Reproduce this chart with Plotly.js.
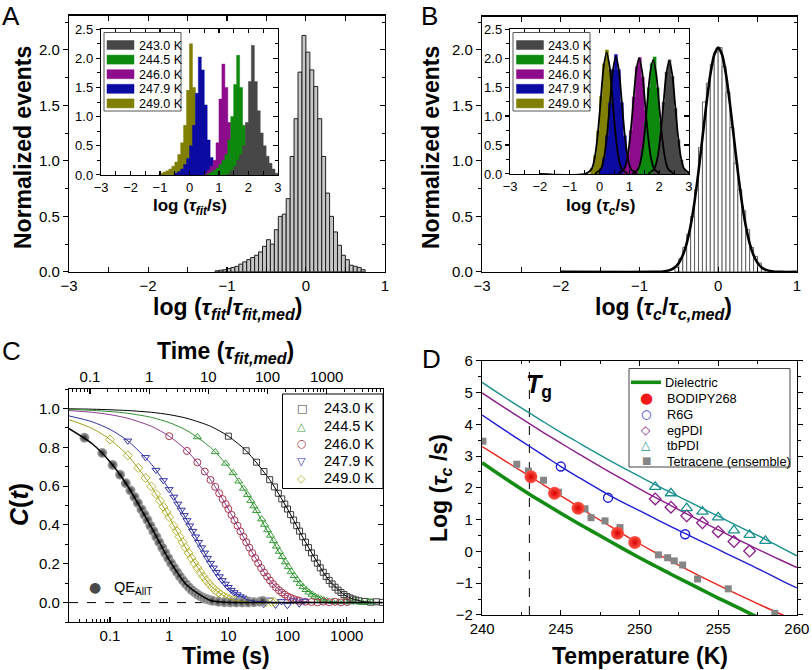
<!DOCTYPE html>
<html>
<head>
<meta charset="utf-8">
<script src="https://cdn.plot.ly/plotly-3.0.1.min.js"></script>
<style>
  html, body { margin: 0; padding: 0; background: #fff; }
  #plot { width: 812px; height: 670px; }
</style>
</head>
<body>
<div id="plot"></div>
<script>
// ---------- Panel A: main histogram ----------
const histAx = [-1.125,-1.075,-1.025,-0.975,-0.925,-0.875,-0.825,-0.775,-0.725,-0.675,-0.625,-0.575,-0.525,-0.475,-0.425,-0.375,-0.325,-0.275,-0.225,-0.175,-0.125,-0.075,-0.025,0.025,0.075,0.125,0.175,0.225,0.275,0.325,0.375,0.425,0.475,0.525,0.575,0.625,0.675,0.725];
const histAy = [0.01,0.015,0.02,0.03,0.04,0.05,0.07,0.09,0.11,0.13,0.15,0.18,0.23,0.29,0.25,0.38,0.50,0.52,0.66,1.04,1.38,1.80,2.13,1.98,1.82,1.67,1.38,1.04,0.71,0.50,0.36,0.24,0.15,0.11,0.06,0.05,0.04,0.02];

// ---------- Panel A: inset histograms (log tau_fit / s) ----------
const insA249x = [-1.05,-0.95,-0.85,-0.75,-0.65,-0.55,-0.45,-0.35,-0.25,-0.15,-0.05,0.05,0.15,0.25,0.35,0.45,0.55,0.65];
const insA249y = [0,0.03,0.05,0.07,0.10,0.15,0.22,0.35,0.55,0.85,1.45,2.25,1.50,0.80,0.40,0.15,0.05,0];
const insA2479x = [-0.55,-0.45,-0.35,-0.25,-0.15,-0.05,0.05,0.15,0.25,0.35,0.45,0.55,0.65,0.75,0.85,0.95,1.05,1.15];
const insA2479y = [0,0.03,0.06,0.10,0.18,0.28,0.50,0.85,1.40,2.02,1.80,1.20,0.60,0.30,0.15,0.07,0.03,0];
const insA246x = [0.45,0.55,0.65,0.75,0.85,0.95,1.05,1.15,1.25,1.35,1.45,1.55,1.65,1.75,1.85];
const insA246y = [0,0.03,0.08,0.15,0.25,0.55,1.30,1.90,1.50,0.90,0.45,0.20,0.08,0.03,0];
const insA2445x = [0.55,0.65,0.75,0.85,0.95,1.05,1.15,1.25,1.35,1.45,1.55,1.65,1.75,1.85,1.95,2.05,2.15,2.25];
const insA2445y = [0,0.02,0.05,0.08,0.12,0.18,0.25,0.35,0.60,1.00,1.55,2.05,1.50,0.85,0.40,0.15,0.05,0];
const insA243x = [1.25,1.35,1.45,1.55,1.65,1.75,1.85,1.95,2.05,2.15,2.25,2.35,2.45,2.55,2.65,2.75,2.85,2.95,3.05];
const insA243y = [0,0.03,0.08,0.15,0.25,0.35,0.50,0.90,1.60,2.22,1.60,1.10,0.72,0.50,0.32,0.20,0.10,0.03,0];

// ---------- Panel B: main histogram + gaussian fit ----------
const histBx = [-0.525,-0.475,-0.425,-0.375,-0.325,-0.275,-0.225,-0.175,-0.125,-0.075,-0.025,0.025,0.075,0.125,0.175,0.225,0.275,0.325,0.375,0.425,0.475,0.525,0.575];
const histBy = [0.04,0.12,0.22,0.34,0.50,0.74,1.12,1.53,1.70,1.87,1.98,2.02,1.85,1.62,1.30,0.98,0.74,0.55,0.38,0.22,0.14,0.08,0.03];
const fitBx = [-2,-0.8,-0.7,-0.6,-0.55,-0.5,-0.45,-0.4,-0.35,-0.3,-0.25,-0.2,-0.15,-0.1,-0.05,0,0.05,0.1,0.15,0.2,0.25,0.3,0.35,0.4,0.45,0.5,0.55,0.6,0.7,0.8,1.0];
const fitBy = [0,0,0.004,0.02,0.041,0.081,0.149,0.257,0.417,0.633,0.903,1.207,1.511,1.776,1.955,2.02,1.955,1.776,1.511,1.207,0.903,0.633,0.417,0.257,0.149,0.081,0.041,0.02,0.004,0,0];

// ---------- Panel B: inset histograms (log tau_c / s) and fits ----------
const insB249x = [-0.35,-0.25,-0.15,-0.05,0.05,0.15,0.25,0.35,0.45,0.55,0.65,0.75,0.85];
const insB249y = [0,0.10,0.32,0.74,1.34,1.90,2.14,1.80,1.20,0.62,0.25,0.08,0];
const insB2479x = [-0.05,0.05,0.15,0.25,0.35,0.45,0.55,0.65,0.75,0.85,0.95,1.05,1.15];
const insB2479y = [0,0.09,0.27,0.66,1.23,1.80,2.06,1.80,1.23,0.66,0.27,0.09,0];
const insB246x = [0.75,0.85,0.95,1.05,1.15,1.25,1.35,1.45,1.55,1.65,1.75,1.85,1.95];
const insB246y = [0,0.11,0.33,0.75,1.33,1.85,2.01,1.67,1.09,0.56,0.22,0.07,0];
const insB2445x = [1.25,1.35,1.45,1.55,1.65,1.75,1.85,1.95,2.05,2.15,2.25,2.35,2.45];
const insB2445y = [0,0.16,0.43,0.90,1.49,1.91,2.02,1.49,0.90,0.43,0.16,0.05,0];
const insB243x = [1.75,1.85,1.95,2.05,2.15,2.25,2.35,2.45,2.55,2.65,2.75,2.85,2.95,3.05];
const insB243y = [0,0.10,0.29,0.68,1.24,1.76,1.97,1.68,1.13,0.59,0.24,0.08,0.02,0];

const fitB249x = [-2.0,-0.46,-0.26,-0.16,-0.06,0.04,0.14,0.24,0.34,0.44,0.54,0.64,0.74,0.94];
const fitB249y = [0,0.004,0.09,0.28,0.68,1.27,1.85,2.10,1.85,1.27,0.68,0.28,0.09,0.004];
const fitB2479x = [-0.15,0.05,0.15,0.25,0.35,0.45,0.55,0.65,0.75,0.85,0.95,1.05,1.25];
const fitB2479y = [0.004,0.09,0.27,0.66,1.23,1.79,2.03,1.79,1.23,0.66,0.27,0.09,0.004];
const fitB246x = [0.63,0.83,0.93,1.03,1.13,1.23,1.33,1.43,1.53,1.63,1.73,1.83,2.03];
const fitB246y = [0.004,0.09,0.27,0.65,1.21,1.77,2.0,1.77,1.21,0.65,0.27,0.09,0.004];
const fitB2445x = [1.1,1.3,1.4,1.5,1.6,1.7,1.8,1.9,2.0,2.1,2.2,2.3,2.5];
const fitB2445y = [0.004,0.09,0.27,0.64,1.2,1.74,1.97,1.74,1.2,0.64,0.27,0.09,0.004];
const fitB243x = [1.64,1.84,1.94,2.04,2.14,2.24,2.34,2.44,2.54,2.64,2.74,2.84,3.04];
const fitB243y = [0.004,0.09,0.26,0.63,1.18,1.72,1.95,1.72,1.18,0.63,0.26,0.09,0.004];

// ---------- Panel C: correlation decays C(t) ----------
const t243 = [10,20,30,40,50,60,70,80,90,100,113,127,143,160,180,201,226,254,285,319,358,402,451,506,568,637,715,802,900,1010,1133,1271,1426,1600,2014,2536,3192,4000];
const c243 = [0.857,0.782,0.723,0.675,0.633,0.596,0.563,0.534,0.507,0.482,0.453,0.425,0.396,0.368,0.339,0.311,0.283,0.256,0.229,0.203,0.179,0.156,0.134,0.114,0.096,0.079,0.064,0.052,0.041,0.031,0.024,0.018,0.013,0.009,0.006,0.002,0.004,0.001];
const t2445 = [3,6,9,12,15,18,21,24,27,30,36.5,41,46,51.6,57.9,65,72.9,81.8,91.8,103,115.5,129.6,145.5,163,183,205,230,259,290,326,365,410,460,579,729,918,1155,1455,1830,2300,2600];
const c2445 = [0.853,0.776,0.717,0.668,0.625,0.588,0.555,0.525,0.497,0.473,0.430,0.402,0.374,0.346,0.318,0.290,0.263,0.236,0.209,0.184,0.160,0.138,0.117,0.098,0.081,0.066,0.053,0.042,0.032,0.024,0.018,0.013,0.009,0.005,0.003,0.006,0.002,0.004,0.000,0.005,0.002];
const t246 = [1,2,3,4,5,6,7,8,9,10,11.3,12.7,14.3,16,18,20.1,22.6,25.4,28.5,31.9,35.8,40.2,45.1,50.6,56.8,63.7,71.5,80.2,90,101,113,127,143,160,201,254,319,402,506,637,802,1010];
const c246 = [0.857,0.781,0.722,0.675,0.632,0.596,0.563,0.533,0.507,0.482,0.452,0.424,0.396,0.367,0.339,0.311,0.283,0.255,0.229,0.203,0.178,0.155,0.134,0.114,0.096,0.079,0.064,0.052,0.041,0.031,0.024,0.018,0.013,0.009,0.004,0.003,0.001,0.005,0.002,0.004,0.001,0.003];
const t2479 = [0.2,0.4,0.6,0.8,1.0,1.2,1.4,1.6,1.8,2.0,2.23,2.5,2.8,3.15,3.53,3.96,4.45,4.99,5.6,6.28,7.05,7.9,8.87,9.95,11.2,12.5,14.1,15.8,17.7,19.9,22.3,25,31.5,39.6,49.9,62.8,79,99.5,125,158,190];
const c2479 = [0.833,0.748,0.682,0.629,0.583,0.544,0.508,0.477,0.449,0.423,0.396,0.368,0.339,0.311,0.283,0.256,0.229,0.203,0.179,0.156,0.134,0.114,0.096,0.079,0.064,0.052,0.041,0.031,0.024,0.018,0.013,0.009,0.012,-0.008,0.014,-0.012,0.006,-0.014,0.010,-0.006,0.008];
const t249 = [0.1,0.2,0.3,0.4,0.5,0.6,0.7,0.8,0.9,1.0,1.19,1.34,1.5,1.69,1.89,2.12,2.38,2.67,3.0,3.37,3.78,4.24,4.75,5.34,5.99,6.72,7.54,8.46,9.49,10.6,11.9,13.4,16.9,21.2,26.7,33.7,42.4,53.4,60];
const c249 = [0.840,0.758,0.694,0.642,0.598,0.559,0.524,0.493,0.466,0.440,0.396,0.368,0.339,0.311,0.283,0.256,0.229,0.203,0.179,0.156,0.134,0.114,0.096,0.079,0.064,0.052,0.041,0.031,0.024,0.018,0.013,0.009,0.005,0.008,0.002,0.006,0.001,0.004,0.003];
const tQE = [0.037,0.074,0.111,0.148,0.185,0.222,0.259,0.296,0.34,0.382,0.429,0.481,0.54,0.606,0.68,0.763,0.856,0.96,1.08,1.21,1.36,1.52,1.71,1.92,2.15,2.41,2.71,3.04,3.41,3.83,4.29,4.82,5.4,6.8,8.56,10.8,13.6,17.1,21.5,27.1,34.1,38];
const cQE = [0.849,0.770,0.709,0.658,0.615,0.577,0.544,0.513,0.480,0.453,0.425,0.396,0.368,0.339,0.311,0.283,0.256,0.229,0.203,0.179,0.156,0.134,0.114,0.096,0.079,0.064,0.052,0.041,0.031,0.024,0.018,0.013,0.009,0.004,0.002,0.001,0.0,0.001,0.0,0.002,0.004,0.008];

// fitted curves, read at common times
const fitT = [0.02,0.05,0.1,0.2,0.5,1,2,5,10,20,50,100,200,500,1000,2000,4000];
const fit243 = [0.998,0.996,0.993,0.989,0.980,0.968,0.949,0.908,0.857,0.782,0.633,0.482,0.313,0.116,0.032,0.004,0];
const fit2445 = [0.995,0.990,0.984,0.975,0.954,0.927,0.886,0.799,0.700,0.565,0.347,0.185,0.068,0.007,0,0,0];
const fit246 = [0.989,0.980,0.968,0.949,0.908,0.857,0.782,0.633,0.482,0.313,0.116,0.032,0.004,0,0,0,0];
const fit2479 = [0.962,0.931,0.892,0.833,0.713,0.583,0.423,0.203,0.079,0.017,0.001,0,0,0,0,0,0];
const fit249 = [0.943,0.897,0.840,0.758,0.598,0.440,0.270,0.088,0.021,0.002,0,0,0,0,0,0,0];
const fitQE = [0.897,0.818,0.725,0.599,0.387,0.220,0.089,0.011,0.001,0,0,0,0,0,0,0,0];

// ---------- Panel D: log tau_c vs temperature ----------
const dT = [240,241,242,243,244,245,246,247,248,249,250,251,252,253,254,255,256,257,258,259,260];
const dielY = [2.79,2.45,2.12,1.80,1.50,1.20,0.91,0.63,0.35,0.07,-0.20,-0.46,-0.72,-0.97,-1.22,-1.47,-1.71,-1.95,-2.19,-2.43,-2.67];
const bodipyFit = [3.30,2.99,2.68,2.37,2.06,1.75,1.44,1.13,0.83,0.53,0.24,-0.04,-0.31,-0.57,-0.82,-1.06,-1.30,-1.53,-1.76,-1.98,-2.20];
const r6gFit = [4.29,3.96,3.63,3.31,2.99,2.67,2.37,2.08,1.79,1.53,1.28,1.03,0.78,0.54,0.30,0.06,-0.18,-0.42,-0.66,-0.91,-1.15];
const egFit = [4.99,4.66,4.34,4.02,3.71,3.41,3.11,2.82,2.53,2.25,1.97,1.70,1.44,1.18,0.93,0.68,0.43,0.19,-0.05,-0.28,-0.51];
const tbFit = [5.32,4.99,4.67,4.36,4.05,3.75,3.46,3.17,2.89,2.62,2.36,2.10,1.85,1.60,1.35,1.11,0.86,0.62,0.38,0.12,-0.14];
const bodipyT = [243.1,244.6,246.1,248.6,249.7];
const bodipyY = [2.35,1.83,1.36,0.57,0.28];
const r6gT = [245.0,248.0,252.9];
const r6gY = [2.67,1.69,0.54];
const egT = [251,252,253,254,255,256,257];
const egY = [1.65,1.39,1.12,0.90,0.62,0.31,0.01];
const tbT = [251,252,253,254,255,256,257,258];
const tbY = [2.03,1.83,1.36,1.25,1.07,0.66,0.52,0.33];
const tetT = [240.05,242.2,242.94,243.9,244.85,246.54,246.92,247.81,248.76,251.2,251.79,252.21,252.74,253.69,255.64,258.6];
const tetY = [3.47,2.74,2.53,2.24,1.86,1.34,1.06,0.96,0.75,-0.11,-0.20,-0.30,-0.43,-0.87,-1.18,-1.95];
const tgTemp = 243;

const tempLabels = ['243.0 K','244.5 K','246.0 K','247.9 K','249.0 K'];
const dyeLabels = ['Dielectric','BODIPY268','R6G','egPDI','tbPDI','Tetracene (ensemble)'];

// ---------- styling ----------
const W = 812, H = 670;
const FONT = '"Liberation Sans", Arial, Helvetica, sans-serif';
const SYMFONT = '"DejaVu Sans", sans-serif';
const fillCol = ['#474747', '#0d8a0d', '#8c0c8c', '#0b0ba2', '#807f00'];   // 243.0 ... 249.0
const markCol = ['#3c3c3c', '#3a9e3a', '#a8344e', '#3434a6', '#b8b83c'];
const lineCol = ['#000000', '#2e8e2e', '#8e3a8e', '#30309e', '#a0a020'];
const markSym = ['square-open', 'triangle-up-open', 'circle-open', 'triangle-down-open', 'diamond-open'];
const legGlyph = ['\u25A1', '\u25B3', '\u25CB', '\u25BD', '\u25C7'];

const dx = (a, b) => [a / W, b / W];
const dy = (top, bot) => [1 - bot / H, 1 - top / H];

function ax(o) {
  return Object.assign({
    showline: true, linecolor: '#000', linewidth: 1.2,
    showgrid: false, zeroline: false,
    ticks: 'inside', ticklen: 5, tickwidth: 1.1, tickcolor: '#000',
    tickfont: { family: FONT, size: 15, color: '#000' },
    fixedrange: true
  }, o);
}
function minor(dtick, dir) {
  return { dtick: dtick, ticks: dir, ticklen: 3, tickwidth: 1, tickcolor: '#000', showgrid: false };
}
function rightAxis(over, anchor, range, dtick, mdtick) {
  return ax({ overlaying: over, side: 'right', anchor: anchor, range: range, dtick: dtick,
              ticks: 'inside', showticklabels: false, minor: minor(mdtick, 'inside') });
}
// invisible carrier so that an overlaying axis (right frame / top scale) is drawn
function carrier(x, y, xa, ya) {
  return { type: 'scatter', mode: 'markers', x: x, y: y, xaxis: xa, yaxis: ya, opacity: 0,
           marker: { size: 1, opacity: 0 }, hoverinfo: 'skip' };
}

const logMinor = [];
for (let d = -2; d <= 3; d++) for (let k = 2; k <= 9; k++) logMinor.push(k * Math.pow(10, d));
const logMajor = [0.1, 1, 10, 100, 1000];
const logText = ['0.1', '1', '10', '100', '1000'];

const traces = [];

// A main
traces.push({ type: 'bar', x: histAx, y: histAy, xaxis: 'x', yaxis: 'y',
  marker: { color: '#c6c6c6', line: { color: '#1e1e1e', width: 1 } }, hoverinfo: 'skip' });
traces.push(carrier(histAx, histAy, 'x', 'y8'));

// A inset (drawn from longest time to shortest so overlaps match)
const insA = [[insA249x, insA249y, 4], [insA2479x, insA2479y, 3], [insA246x, insA246y, 2],
              [insA2445x, insA2445y, 1], [insA243x, insA243y, 0]];
insA.forEach(([x, y, i]) => traces.push({ type: 'scatter', mode: 'lines', x: x, y: y,
  xaxis: 'x2', yaxis: 'y2', fill: 'tozeroy', fillcolor: fillCol[i],
  line: { shape: 'hvh', color: fillCol[i], width: 0.5 }, hoverinfo: 'skip' }));
traces.push(carrier(insA243x, insA243y, 'x2', 'y9'));

// B main
traces.push({ type: 'bar', x: histBx, y: histBy, xaxis: 'x3', yaxis: 'y3',
  marker: { color: '#ffffff', line: { color: '#555555', width: 0.9 } }, hoverinfo: 'skip' });
traces.push({ type: 'scatter', mode: 'lines', x: fitBx, y: fitBy, xaxis: 'x3', yaxis: 'y3',
  line: { color: '#000', width: 2.6, shape: 'spline', smoothing: 0.6 }, hoverinfo: 'skip' });
traces.push(carrier(histBx, histBy, 'x3', 'y10'));

// B inset
const insB = [[insB249x, insB249y, 4], [insB2479x, insB2479y, 3], [insB246x, insB246y, 2],
              [insB2445x, insB2445y, 1], [insB243x, insB243y, 0]];
insB.forEach(([x, y, i]) => traces.push({ type: 'scatter', mode: 'lines', x: x, y: y,
  xaxis: 'x4', yaxis: 'y4', fill: 'tozeroy', fillcolor: fillCol[i],
  line: { shape: 'hvh', color: fillCol[i], width: 0.5 }, hoverinfo: 'skip' }));
[[fitB249x, fitB249y], [fitB2479x, fitB2479y], [fitB246x, fitB246y], [fitB2445x, fitB2445y], [fitB243x, fitB243y]]
  .forEach(([x, y]) => traces.push({ type: 'scatter', mode: 'lines', x: x, y: y, xaxis: 'x4', yaxis: 'y4',
    line: { color: '#000', width: 1.8, shape: 'spline', smoothing: 0.8 }, hoverinfo: 'skip' }));
traces.push(carrier(insB243x, insB243y, 'x4', 'y11'));

// C markers
const cData = [[t243, c243], [t2445, c2445], [t246, c246], [t2479, c2479], [t249, c249]];
cData.forEach(([t, c], i) => traces.push({ type: 'scatter', mode: 'markers', x: t, y: c,
  xaxis: 'x5', yaxis: 'y5',
  marker: { symbol: markSym[i], size: i === 0 ? 6 : 7, color: markCol[i], line: { width: 1, color: markCol[i] } },
  hoverinfo: 'skip' }));
traces.push({ type: 'scatter', mode: 'markers', x: tQE, y: cQE, xaxis: 'x5', yaxis: 'y5',
  marker: { symbol: 'circle', size: 10, color: '#a8a8a8', gradient: { type: 'radial', color: '#262626' }, line: { width: 0 } },
  hoverinfo: 'skip' });
// C fits
[fit243, fit2445, fit246, fit2479, fit249].forEach((f, i) => traces.push({ type: 'scatter', mode: 'lines',
  x: fitT, y: f, xaxis: 'x5', yaxis: 'y5', line: { color: lineCol[i], width: 1, shape: 'spline', smoothing: 0.7 },
  hoverinfo: 'skip' }));
traces.push({ type: 'scatter', mode: 'lines', x: fitT, y: fitQE, xaxis: 'x5', yaxis: 'y5',
  line: { color: '#000', width: 1.5, shape: 'spline', smoothing: 0.7 }, hoverinfo: 'skip' });
traces.push(carrier(t243, c243, 'x5', 'y7'));
traces.push(carrier(fitT, fitQE, 'x7', 'y5'));

// D lines
traces.push({ type: 'scatter', mode: 'lines', x: dT, y: dielY, xaxis: 'x6', yaxis: 'y6',
  line: { color: '#148c14', width: 3.6, shape: 'spline' }, hoverinfo: 'skip' });
traces.push({ type: 'scatter', mode: 'lines', x: dT, y: bodipyFit, xaxis: 'x6', yaxis: 'y6',
  line: { color: '#e8241c', width: 1.4, shape: 'spline' }, hoverinfo: 'skip' });
traces.push({ type: 'scatter', mode: 'lines', x: dT, y: r6gFit, xaxis: 'x6', yaxis: 'y6',
  line: { color: '#1e1ed6', width: 1.4, shape: 'spline' }, hoverinfo: 'skip' });
traces.push({ type: 'scatter', mode: 'lines', x: dT, y: egFit, xaxis: 'x6', yaxis: 'y6',
  line: { color: '#8a1e8a', width: 1.4, shape: 'spline' }, hoverinfo: 'skip' });
traces.push({ type: 'scatter', mode: 'lines', x: dT, y: tbFit, xaxis: 'x6', yaxis: 'y6',
  line: { color: '#1b9090', width: 1.4, shape: 'spline' }, hoverinfo: 'skip' });
// D markers
traces.push({ type: 'scatter', mode: 'markers', x: tetT, y: tetY, xaxis: 'x6', yaxis: 'y6',
  marker: { symbol: 'square', size: 7, color: '#858585' }, hoverinfo: 'skip' });
traces.push({ type: 'scatter', mode: 'markers', x: r6gT, y: r6gY, xaxis: 'x6', yaxis: 'y6',
  marker: { symbol: 'circle-open', size: 9, color: '#1e1ed6', line: { width: 1.4 } }, hoverinfo: 'skip' });
traces.push({ type: 'scatter', mode: 'markers', x: egT, y: egY, xaxis: 'x6', yaxis: 'y6',
  marker: { symbol: 'diamond-open', size: 9, color: '#8a1e8a', line: { width: 1.3 } }, hoverinfo: 'skip' });
traces.push({ type: 'scatter', mode: 'markers', x: tbT, y: tbY, xaxis: 'x6', yaxis: 'y6',
  marker: { symbol: 'triangle-up-open', size: 10, color: '#1b9090', line: { width: 1.3 } }, hoverinfo: 'skip' });
traces.push({ type: 'scatter', mode: 'markers', x: bodipyT, y: bodipyY, xaxis: 'x6', yaxis: 'y6',
  marker: { symbol: 'circle', size: 13, color: '#ff5548', gradient: { type: 'radial', color: '#d80000' }, line: { width: 0 } },
  hoverinfo: 'skip' });

// ---------- axes ----------
const rA = [-0.001, 2.31], rAi = [-0.001, 2.502], rB = [-0.001, 2.30];
const smallTick = { family: FONT, size: 13, color: '#000' };
const layout = {
  width: W, height: H, margin: { l: 0, r: 0, t: 0, b: 0 },
  paper_bgcolor: '#fff', plot_bgcolor: 'rgba(0,0,0,0)',
  showlegend: false, hovermode: false, bargap: 0,
  font: { family: FONT, color: '#000' },

  xaxis: ax({ domain: dx(69, 385), range: [-3.002, 1.002], dtick: 1, anchor: 'y', mirror: 'allticks', minor: minor(0.5, 'inside') }),
  yaxis: ax({ domain: dy(15.5, 272), range: rA, dtick: 0.5, tickformat: '.1f', anchor: 'x', ticks: 'outside', minor: minor(0.25, 'outside') }),
  yaxis8: rightAxis('y', 'x', rA, 0.5, 0.25),

  xaxis2: ax({ domain: dx(101, 278), range: [-3.003, 3.003], dtick: 1, anchor: 'y2', mirror: 'allticks', ticklen: 4,
               tickfont: smallTick, minor: minor(0.5, 'inside') }),
  yaxis2: ax({ domain: dy(29, 175), range: rAi, dtick: 0.5, tickformat: '.1f', anchor: 'x2', ticks: 'outside', ticklen: 4,
               tickfont: smallTick, minor: minor(0.25, 'outside') }),
  yaxis9: rightAxis('y2', 'x2', rAi, 0.5, 0.25),

  xaxis3: ax({ domain: dx(482, 797), range: [-3.002, 1.002], dtick: 1, anchor: 'y3', mirror: 'allticks', minor: minor(0.5, 'inside') }),
  yaxis3: ax({ domain: dy(16.5, 272), range: rB, dtick: 0.5, tickformat: '.1f', anchor: 'x3', ticks: 'outside', minor: minor(0.25, 'outside') }),
  yaxis10: rightAxis('y3', 'x3', rB, 0.5, 0.25),

  xaxis4: ax({ domain: dx(510, 689), range: [-3.003, 3.003], dtick: 1, anchor: 'y4', mirror: 'allticks', ticklen: 4,
               tickfont: smallTick, minor: minor(0.5, 'inside') }),
  yaxis4: ax({ domain: dy(29, 174), range: rAi, dtick: 0.5, tickformat: '.1f', anchor: 'x4', ticks: 'outside', ticklen: 4,
               tickfont: smallTick, minor: minor(0.25, 'outside') }),
  yaxis11: rightAxis('y4', 'x4', rAi, 0.5, 0.25),

  xaxis5: ax({ domain: dx(69, 383), type: 'log', range: [-1.693, 3.614], anchor: 'y5',
               tickmode: 'array', tickvals: logMajor, ticktext: logText,
               minor: { tickmode: 'array', tickvals: logMinor, ticks: 'inside', ticklen: 3, tickwidth: 1, tickcolor: '#000' } }),
  xaxis7: ax({ overlaying: 'x5', side: 'top', anchor: 'y5', type: 'log', range: [-1.355, 3.952],
               tickmode: 'array', tickvals: logMajor, ticktext: logText,
               minor: { tickmode: 'array', tickvals: logMinor, ticks: 'inside', ticklen: 3, tickwidth: 1, tickcolor: '#000' } }),
  yaxis5: ax({ domain: dy(389, 622), range: [-0.1, 1.1], tick0: 0, dtick: 0.2, tickformat: '.1f', anchor: 'x5',
               ticks: 'outside', minor: Object.assign(minor(0.1, 'outside'), { tick0: 0 }) }),
  yaxis7: ax({ overlaying: 'y5', side: 'right', anchor: 'x5', range: [-0.1, 1.1], tick0: 0, dtick: 0.2,
               ticks: 'inside', showticklabels: false, minor: Object.assign(minor(0.1, 'inside'), { tick0: 0 }) }),

  xaxis6: ax({ domain: dx(482, 797), range: [239.99, 260.01], dtick: 5, anchor: 'y6', mirror: 'allticks', minor: minor(2.5, 'inside') }),
  yaxis6: ax({ domain: dy(360.7, 615), range: [-2.004, 6.004], dtick: 1, anchor: 'x6', mirror: 'allticks', ticks: 'outside', minor: minor(0.5, 'outside') }),

  shapes: [],
  annotations: []
};

const P = (x) => x / W, Q = (y) => 1 - y / H;
function txt(x, y, text, size, o) {
  return Object.assign({ xref: 'paper', yref: 'paper', x: P(x), y: Q(y), text: text, showarrow: false,
    font: { family: FONT, size: size, color: '#000' }, xanchor: 'center', yanchor: 'middle' }, o || {});
}
function box(x0, y0, x1, y1, color, fill) {
  return { type: 'rect', xref: 'paper', yref: 'paper', x0: P(x0), x1: P(x1), y0: Q(y1), y1: Q(y0),
           line: { color: color, width: 1 }, fillcolor: fill, layer: 'above' };
}

// reference lines
layout.shapes.push({ type: 'line', xref: 'x5 domain', yref: 'y5', x0: 0, x1: 1, y0: 0, y1: 0,
  line: { color: '#000', width: 1, dash: 'dash' }, layer: 'below' });
layout.shapes.push({ type: 'line', xref: 'x6', yref: 'y6 domain', x0: tgTemp, x1: tgTemp, y0: 0, y1: 1,
  line: { color: '#000', width: 1, dash: 'dash' }, layer: 'below' });

// panel letters
layout.annotations.push(txt(11, 16, 'A', 26), txt(430, 16, 'B', 26), txt(11, 351, 'C', 26), txt(431, 359, 'D', 26));

// axis titles
const B = 23;
layout.annotations.push(
  txt(23, 148, '<b>Normalized events</b>', B, { textangle: -90 }),
  txt(227, 309, '<b>log (<i>τ<sub>fit</sub></i>/<i>τ<sub>fit,med</sub></i>)</b>', B),
  txt(190, 207, '<b>log (<i>τ<sub>fit</sub></i>/s)</b>', 17),
  txt(431, 148, '<b>Normalized events</b>', B, { textangle: -90 }),
  txt(663, 309, '<b>log (<i>τ<sub>c</sub></i>/<i>τ<sub>c,med</sub></i>)</b>', B),
  txt(600, 207, '<b>log (<i>τ<sub>c</sub></i>/s)</b>', 17),
  txt(225, 352, '<b>Time (<i>τ<sub>fit,med</sub></i>)</b>', B),
  txt(19, 505, '<b><i>C</i>(<i>t</i>)</b>', 25, { textangle: -90 }),
  txt(226, 656, '<b>Time (s)</b>', B),
  txt(640, 656, '<b>Temperature (K)</b>', B),
  txt(440, 488, '<b>Log (<i>τ<sub>c</sub></i> /s)</b>', B, { textangle: -90 }),
  txt(524, 386, '<b><i>T</i><sub>g</sub></b>', 25, { xanchor: 'left' })
);

// inset legends (A and B)
const legRows = [45, 59.6, 74.2, 88.8, 103.4];
[[104, 181, 107, 134, 136.5], [513, 590, 516.5, 543.5, 546]].forEach(([bx0, bx1, sx0, sx1, tx]) => {
  layout.shapes.push(box(bx0, 32.5, bx1, 111, '#555', '#fff'));
  tempLabels.forEach((lab, i) => {
    layout.shapes.push({ type: 'rect', xref: 'paper', yref: 'paper', x0: P(sx0), x1: P(sx1),
      y0: Q(legRows[i] + 4.5), y1: Q(legRows[i] - 4.5), line: { color: fillCol[i], width: 0.5 },
      fillcolor: fillCol[i], layer: 'above' });
    layout.annotations.push(txt(tx, legRows[i] + 0.5, lab, 12.5, { xanchor: 'left' }));
  });
});

// C legend
const cRows = [408.3, 426, 443.5, 461, 478.3];
layout.shapes.push(box(282.5, 394, 383, 488.5, '#000', '#fff'));
tempLabels.forEach((lab, i) => {
  layout.annotations.push(txt(301.5, cRows[i], legGlyph[i], 11,
    { font: { family: SYMFONT, size: 11, color: markCol[i] } }));
  layout.annotations.push(txt(321.5, cRows[i], lab, 14.5, { xanchor: 'left' }));
});
layout.annotations.push(txt(94.5, 587, '\u25CF', 14, { font: { family: SYMFONT, size: 14, color: '#4a4a4a' } }));
layout.annotations.push(txt(112, 588, 'QE<sub>AllT</sub>', 14.5, { xanchor: 'left' }));

// D legend
const dRows = [382.3, 398, 413.8, 429.5, 445.2, 460.8];
layout.shapes.push(box(629, 368.5, 790, 467, '#444', '#fff'));
layout.shapes.push({ type: 'line', xref: 'paper', yref: 'paper', x0: P(631), x1: P(661), y0: Q(dRows[0]), y1: Q(dRows[0]),
  line: { color: '#148c14', width: 3.6 }, layer: 'above' });
const dGlyph = [null, ['\u25CF', '#f01818', 15], ['\u25CB', '#1e1ed6', 12], ['\u25C7', '#8a1e8a', 12],
                ['\u25B3', '#1b9090', 12], ['\u25A0', '#858585', 10]];
dyeLabels.forEach((lab, i) => {
  if (dGlyph[i]) layout.annotations.push(txt(646, dRows[i], dGlyph[i][0], dGlyph[i][2],
    { font: { family: SYMFONT, size: dGlyph[i][2], color: dGlyph[i][1] } }));
  layout.annotations.push(txt(i === 0 ? 662.5 : 665, dRows[i] + 0.5, lab, 12.8, { xanchor: 'left' }));
});

Plotly.newPlot('plot', traces, layout, { displayModeBar: false, staticPlot: true });
</script>
</body>
</html>
